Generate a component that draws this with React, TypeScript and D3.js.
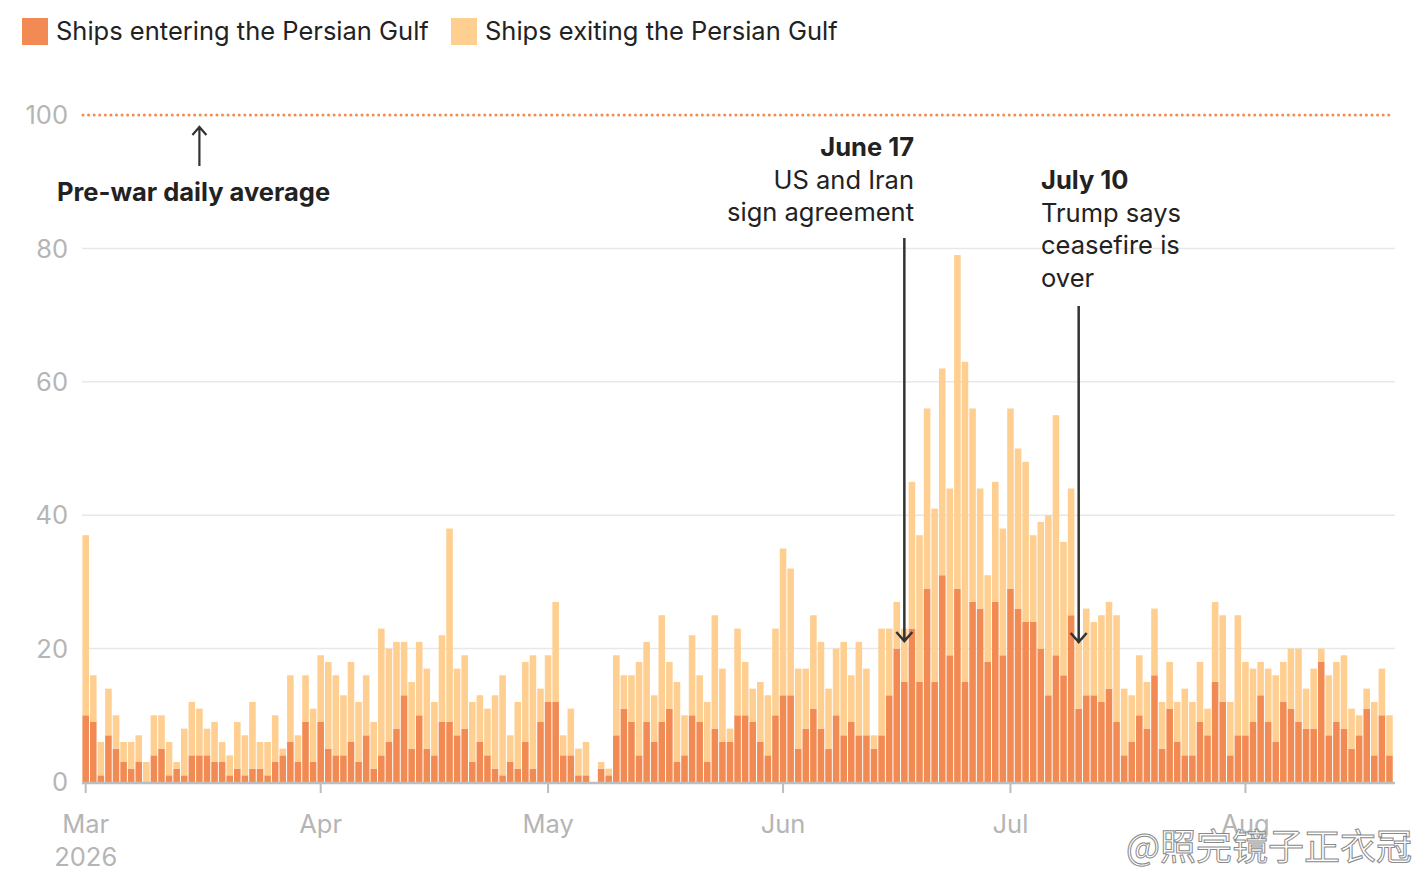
import * as d3 from 'd3';

// Daily counts (Mar 1 - Aug 20, 2026)
const enteringMar = [10, 9, 1, 7, 5, 3, 2, 3, 0, 4, 5, 1, 2, 1, 4, 4, 4, 3, 3, 1, 2, 1, 2, 2, 1, 3, 4, 6, 3, 9, 3];
const exitingMar = [27, 7, 5, 7, 5, 3, 4, 4, 3, 6, 5, 5, 1, 7, 8, 7, 4, 6, 3, 3, 7, 6, 10, 4, 5, 7, 1, 10, 4, 7, 8];
const enteringApr = [9, 5, 4, 4, 6, 3, 7, 2, 4, 6, 8, 13, 5, 10, 5, 4, 9, 9, 7, 8, 3, 6, 4, 2, 1, 3, 2, 6, 2, 9];
const exitingApr = [10, 13, 12, 9, 12, 9, 9, 7, 19, 14, 13, 8, 10, 11, 12, 8, 13, 29, 10, 11, 9, 7, 7, 11, 15, 4, 10, 12, 17, 5];
const enteringMay = [12, 12, 4, 4, 1, 1, 0, 2, 1, 7, 11, 9, 4, 9, 6, 9, 11, 3, 4, 10, 9, 3, 8, 6, 6, 10, 10, 9, 6, 4, 10];
const exitingMay = [7, 15, 3, 7, 4, 5, 0, 1, 1, 12, 5, 7, 14, 12, 7, 16, 7, 12, 6, 12, 7, 9, 17, 11, 2, 13, 8, 5, 9, 9, 13];
const enteringJun = [13, 13, 5, 8, 11, 8, 5, 10, 7, 9, 7, 7, 5, 7, 13, 20, 15, 23, 15, 29, 15, 31, 19, 29, 15, 27, 26, 18, 27, 19];
const exitingJun = [22, 19, 12, 9, 14, 13, 9, 10, 14, 7, 14, 10, 2, 16, 10, 7, 8, 22, 22, 27, 26, 31, 25, 50, 48, 29, 18, 13, 18, 19];
const enteringJul = [29, 26, 24, 24, 20, 13, 19, 16, 25, 11, 13, 13, 12, 14, 9, 4, 6, 10, 8, 16, 5, 11, 6, 4, 4, 9, 7, 15, 12, 4, 7];
const exitingJul = [27, 24, 24, 13, 19, 27, 36, 20, 19, 10, 13, 11, 13, 13, 16, 10, 7, 9, 7, 10, 7, 7, 6, 10, 8, 9, 4, 12, 13, 8, 18];
const enteringAug = [7, 9, 13, 9, 6, 12, 11, 9, 8, 8, 18, 7, 9, 8, 5, 7, 11, 4, 10, 4];
const exitingAug = [11, 8, 5, 8, 10, 6, 9, 11, 6, 9, 2, 9, 9, 11, 6, 3, 3, 8, 7, 6];

const startDate = new Date(2026, 2, 1);
const yTicks = [0, 20, 40, 60, 80, 100];
const monthTicks = [
  { date: new Date(2026, 2, 1), label: 'Mar', sub: '2026' },
  { date: new Date(2026, 3, 1), label: 'Apr' },
  { date: new Date(2026, 4, 1), label: 'May' },
  { date: new Date(2026, 5, 1), label: 'Jun' },
  { date: new Date(2026, 6, 1), label: 'Jul' },
  { date: new Date(2026, 7, 1), label: 'Aug' },
];
const preWarAverage = 100;

const ENTER_COLOR = '#f28b53';
const EXIT_COLOR = '#fecf91';
const TEXT = '#222';
const GREY = '#b5b5b5';
const FONT = 'Inter, Roboto, sans-serif';

const entering = [...enteringMar, ...enteringApr, ...enteringMay, ...enteringJun, ...enteringJul, ...enteringAug];
const exiting = [...exitingMar, ...exitingApr, ...exitingMay, ...exitingJun, ...exitingJul, ...exitingAug];

interface Day {
  date: Date;
  entering: number;
  exiting: number;
}

const days: Day[] = entering.map((v, i) => ({
  date: d3.timeDay.offset(startDate, i),
  entering: v,
  exiting: exiting[i],
}));

const width = 1426;
const height = 880;
const left = 82;
const right = 1395;
const dayStep = 7.58;

export default function App() {
  const x = d3
    .scaleTime()
    .domain([startDate, d3.timeDay.offset(startDate, days.length)])
    .range([85.7, 85.7 + days.length * dayStep]);
  const y = d3.scaleLinear().domain([0, 100]).range([782, 115]);

  const stack = d3.stack<Day>().keys(['entering', 'exiting'])(days);
  const colors = [ENTER_COLOR, EXIT_COLOR];
  const barW = dayStep - 1;

  const june17 = x(new Date(2026, 5, 17));
  const july10 = x(new Date(2026, 6, 10));
  const preWarX = x(new Date(2026, 2, 16));

  const arrowDown = (cx: number, y0: number, y1: number) =>
    `M${cx},${y0}V${y1}M${cx - 8},${y1 - 9}L${cx},${y1}L${cx + 8},${y1 - 9}`;

  return (
    <svg
      width={width}
      height={height}
      style={{ position: 'absolute', left: 0, top: 0, background: '#fff' }}
      fontFamily={FONT}
    >
      {/* legend */}
      <rect x={22} y={18} width={26} height={27} fill={ENTER_COLOR} />
      <text x={56} y={40} fontSize={25.5} fill={TEXT}>Ships entering the Persian Gulf</text>
      <rect x={451} y={18} width={26} height={27} fill={EXIT_COLOR} />
      <text x={485} y={40} fontSize={25.5} fill={TEXT}>Ships exiting the Persian Gulf</text>

      {/* grid + y labels */}
      {yTicks.map((t) => (
        <g key={t}>
          {t > 0 && t < 100 && (
            <line x1={left} x2={right} y1={y(t)} y2={y(t)} stroke="#e8e8e8" strokeWidth={1.5} />
          )}
          <text x={68} y={y(t)} dy="0.36em" textAnchor="end" fontSize={25.5} fill={GREY}>
            {t}
          </text>
        </g>
      ))}

      {/* pre-war average */}
      <line
        x1={left + 1}
        x2={right - 1}
        y1={y(preWarAverage)}
        y2={y(preWarAverage)}
        stroke={ENTER_COLOR}
        strokeWidth={3}
        strokeLinecap="round"
        strokeDasharray="0 5.58"
      />

      {/* bars */}
      {stack.map((layer, li) => (
        <g key={layer.key} fill={colors[li]}>
          {layer.map((d, i) =>
            d[1] - d[0] > 0 ? (
              <rect
                key={i}
                x={x(d.data.date) - barW / 2}
                y={y(d[1])}
                width={barW}
                height={y(d[0]) - y(d[1])}
              />
            ) : null
          )}
        </g>
      ))}

      {/* x axis */}
      <line x1={left} x2={right} y1={y(0) + 1} y2={y(0) + 1} stroke="#bdbdbd" strokeWidth={2.5} />
      {monthTicks.map((m) => (
        <g key={m.label} transform={`translate(${x(m.date)},0)`}>
          <line y1={y(0)} y2={y(0) + 11} stroke="#bdbdbd" strokeWidth={2} />
          <text y={833} textAnchor="middle" fontSize={25.5} fill={GREY}>{m.label}</text>
          {m.sub && (
            <text y={866} textAnchor="middle" fontSize={25.5} fill={GREY}>{m.sub}</text>
          )}
        </g>
      ))}

      {/* annotations */}
      <path
        d={`M${preWarX},166V127M${preWarX - 7},135L${preWarX},127L${preWarX + 7},135`}
        fill="none"
        stroke="#333"
        strokeWidth={2.2}
      />
      <text x={57} y={201} fontSize={25.5} fontWeight="bold" fill={TEXT}>Pre-war daily average</text>

      <path d={arrowDown(june17, 238, 641)} fill="none" stroke="#333" strokeWidth={2.5} />
      <text x={914} y={156} textAnchor="end" fontSize={25.5} fill={TEXT}>
        <tspan fontWeight="bold">June 17</tspan>
        <tspan x={914} dy={32.5}>US and Iran</tspan>
        <tspan x={914} dy={32.5}>sign agreement</tspan>
      </text>

      <path d={arrowDown(july10, 306, 642)} fill="none" stroke="#333" strokeWidth={2.5} />
      <text x={1041} y={189} fontSize={25.5} fill={TEXT}>
        <tspan fontWeight="bold">July 10</tspan>
        <tspan x={1041} dy={32.5}>Trump says</tspan>
        <tspan x={1041} dy={32.5}>ceasefire is</tspan>
        <tspan x={1041} dy={32.5}>over</tspan>
      </text>

      {/* watermark */}
      <text
        x={1412}
        y={860}
        textAnchor="end"
        fontSize={36}
        fontFamily='"Noto Sans CJK SC", sans-serif'
        fill="#fff"
        fillOpacity={0.85}
        stroke="#8a8a8a"
        strokeWidth={1}
      >
        @照完镜子正衣冠
      </text>
    </svg>
  );
}
